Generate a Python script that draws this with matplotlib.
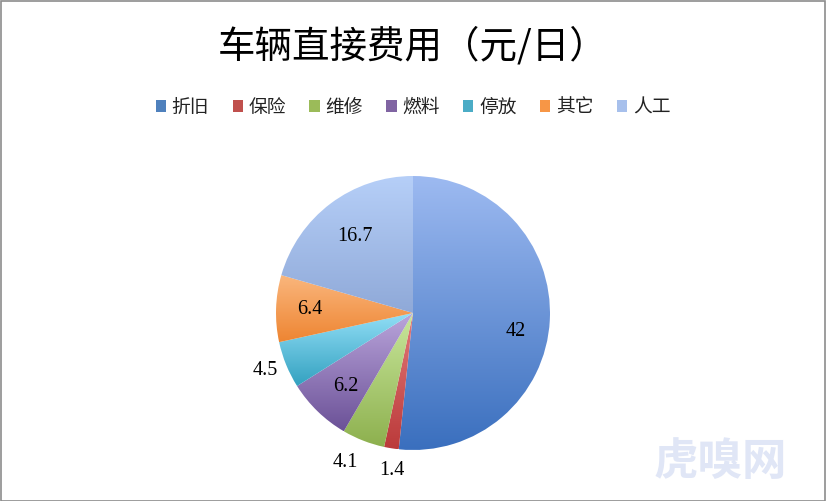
import numpy as np
import matplotlib
matplotlib.use("Agg")
import matplotlib.pyplot as plt
from matplotlib.patches import Rectangle, Patch
import matplotlib.colors as mcolors

plt.rcParams['font.family'] = ['Noto Sans CJK SC', 'DejaVu Sans']

title = "车辆直接费用（元/日）"
categories = ["折旧", "保险", "维修", "燃料", "停放", "其它", "人工"]
values = [42, 1.4, 4.1, 6.2, 4.5, 6.4, 16.7]
labels = ["42", "1.4", "4.1", "6.2", "4.5", "6.4", "16.7"]
base_colors = ["#4F81BD", "#C0504D", "#9BBB59", "#8064A2", "#4BACC6", "#F79646", "#A7C0EC"]
top_colors = ["#9DBAF1", "#E27A7A", "#C9E79C", "#BBA6DC", "#93DFF7", "#FAB77E", "#B6CFF8"]
bot_colors = ["#3A6FBE", "#BB3A3A", "#8DB04E", "#6B5197", "#33A1C0", "#EE8532", "#8FA9D8"]
label_radius = [0.76, 1.16, 1.2, 0.73, 1.16, 0.75, 0.70]
label_angle_shift = [-7.5, 1.5, -3.0, 1.5, -1.0, 0.0, 0.0]

W, H = 826, 501
fig = plt.figure(figsize=(W/100, H/100), dpi=100)
fig.patch.set_facecolor("white")

# border
fig.add_artist(Rectangle((0.5/W, 0.5/H), 1-1.5/W, 1-1.5/H, transform=fig.transFigure,
                         fill=False, edgecolor="#8c8c8c", linewidth=1.2))

cx, cy, R = 413, 313, 137
ax = fig.add_axes([(cx-R)/W, 1-(cy+R)/H, 2*R/W, 2*R/H])

wedges, _ = ax.pie(values, startangle=90, counterclock=False, radius=1.0,
                   colors=base_colors, wedgeprops=dict(linewidth=0))

for w, c0, c1 in zip(wedges, top_colors, bot_colors):
    top = np.array(mcolors.to_rgb(c0))
    bot = np.array(mcolors.to_rgb(c1))
    n = 256
    t = np.linspace(0, 1, n)[:, None]
    grad = (top[None, :] * (1 - t) + bot[None, :] * t)[:, None, :]
    grad = np.repeat(grad, 2, axis=1)
    ext = w.get_path().get_extents(w.get_transform() - ax.transData)
    im = ax.imshow(grad, extent=[ext.x0, ext.x1, ext.y0, ext.y1], origin="upper",
                   aspect="auto", zorder=2, interpolation="bilinear")
    im.set_clip_path(w)
    w.set_facecolor("none")

for w, lab, rf, sh in zip(wedges, labels, label_radius, label_angle_shift):
    ang = np.deg2rad((w.theta1 + w.theta2) / 2 + sh)
    ax.text(rf*np.cos(ang), rf*np.sin(ang), lab, ha="center", va="center",
            fontsize=14.5, family=["Liberation Serif", "DejaVu Serif"], color="#000000", zorder=5)

ax.set_xlim(-1, 1)
ax.set_ylim(-1, 1)
ax.set_aspect("equal")
ax.axis("off")

fig.text(0.5, 1-47/H, title, ha="center", va="center", fontsize=27, fontweight="medium",
         color="#000000")

handles = [Patch(facecolor=c, edgecolor="none") for c in base_colors]
fig.legend(handles, categories, loc="center", bbox_to_anchor=(0.5, 1-107/H), ncol=7,
           frameon=False, fontsize=13.5, handlelength=0.55, handleheight=0.55,
           handletextpad=0.3, columnspacing=1.25, labelcolor="#222222")

fig.text(0.872, 1-462/H, "虎嗅网", ha="center", va="center", fontsize=32,
         color="#e0e6f6", fontweight="bold", style="italic", zorder=0)

fig.savefig("out.png", dpi=100)
